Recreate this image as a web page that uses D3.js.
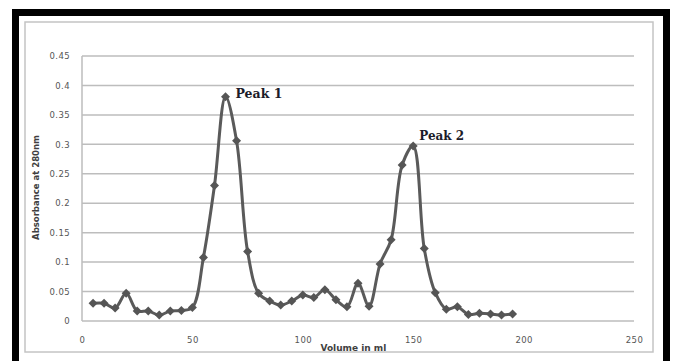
<!DOCTYPE html>
<html>
<head>
<meta charset="utf-8">
<script src="https://cdn.jsdelivr.net/npm/d3@7"></script>
<style>
  body { margin: 0; background: #fff; }
  svg { display: block; }
</style>
</head>
<body>
<div id="chart-area"></div>
<script>
// elution volumes (ml) and absorbance readings at 280nm
const volumes = [5, 10, 15, 20, 25, 30, 35, 40, 45, 50,
                 55, 60, 65, 70, 75, 80, 85, 90, 95, 100,
                 105, 110, 115, 120, 125, 130, 135, 140, 145, 150,
                 155, 160, 165, 170, 175, 180, 185, 190, 195]
const absorbance = [0.030, 0.030, 0.022, 0.047, 0.017, 0.017, 0.010, 0.017, 0.018, 0.023,
                    0.108, 0.230, 0.381, 0.306, 0.118, 0.047, 0.034, 0.027, 0.034, 0.044,
                    0.040, 0.053, 0.036, 0.024, 0.064, 0.025, 0.097, 0.138, 0.265, 0.297,
                    0.123, 0.048, 0.020, 0.024, 0.011, 0.013, 0.012, 0.010, 0.012]
const xTicks = [0, 50, 100, 150, 200, 250]
const yTicks = [0, 0.05, 0.1, 0.15, 0.2, 0.25, 0.3, 0.35, 0.4, 0.45]
const peaks = [{ label: 'Peak 1', vol: 65 }, { label: 'Peak 2', vol: 150 }]

const W = 673, H = 361
const margin = { left: 82, right: 39, top: 56, bottom: 40 }
const width = W - margin.left - margin.right
const height = H - margin.top - margin.bottom

const data = volumes.map((v, i) => ({ vol: v, abs: absorbance[i] }))

const svg = d3.select('#chart-area')
              .append('svg')
              .attr('width', W)
              .attr('height', H)

svg.append('rect').attr('width', W).attr('height', H).attr('fill', '#fff')

// outer black frame
svg.append('rect')
   .attr('x', 15.5).attr('y', 12.5)
   .attr('width', 651).attr('height', 370)
   .attr('fill', 'none').attr('stroke', '#000').attr('stroke-width', 7)

// chart area border
svg.append('rect')
   .attr('x', 25).attr('y', 22)
   .attr('width', 628).attr('height', 330)
   .attr('fill', 'none').attr('stroke', '#c4c4c4').attr('stroke-width', 1.5)

const g = svg.append('g')
             .attr('transform', 'translate(' + margin.left + ', ' + margin.top + ')')

// X Scale
const x = d3.scaleLinear()
            .domain([0, 250])
            .range([0, width])

// Y Scale
const y = d3.scaleLinear()
            .domain([0, 0.45])
            .range([height, 0])

// gridlines
g.append('g')
 .selectAll('line')
 .data(yTicks)
 .enter().append('line')
 .attr('x1', 0).attr('x2', width)
 .attr('y1', d => y(d)).attr('y2', d => y(d))
 .attr('stroke', '#bdbdbd').attr('stroke-width', 1.5)

g.append('line')
 .attr('x1', 0).attr('x2', 0)
 .attr('y1', 0).attr('y2', height)
 .attr('stroke', '#bdbdbd').attr('stroke-width', 1.5)

// Y Axis labels
const yAxisCall = d3.axisLeft(y)
                    .tickValues(yTicks)
                    .tickSize(0)
                    .tickPadding(12)
                    .tickFormat(d => d3.format('')(+d.toFixed(2)))
const yAxisGroup = g.append('g').attr('class', 'y-axis').call(yAxisCall)

// X Axis labels
const xAxisCall = d3.axisBottom(x)
                    .tickValues(xTicks)
                    .tickSize(0)
                    .tickPadding(16)
const xAxisGroup = g.append('g')
                    .attr('class', 'x-axis')
                    .attr('transform', 'translate(0,' + height + ')')
                    .call(xAxisCall)

svg.selectAll('.domain').remove()
svg.selectAll('.tick text')
   .attr('font-family', 'DejaVu Sans')
   .attr('font-size', '8.5px')
   .attr('letter-spacing', '0.4px')
   .attr('fill', '#555')

// X Label
g.append('text')
 .attr('x', x(108))
 .attr('y', height + 30)
 .attr('font-family', 'DejaVu Sans')
 .attr('font-weight', 'bold')
 .attr('font-size', '9px')
 .attr('fill', '#404040')
 .text('Volume in ml')

// Y Label
g.append('text')
 .attr('transform', 'translate(-43,' + (y(0.225) - 1) + ') rotate(-90)')
 .attr('text-anchor', 'middle')
 .attr('font-family', 'DejaVu Sans')
 .attr('font-weight', 'bold')
 .attr('font-size', '8.5px')
 .attr('fill', '#404040')
 .text('Absorbance at 280nm')

// line
const line = d3.line()
               .x(d => x(d.vol))
               .y(d => y(d.abs))
               .curve(d3.curveCatmullRom.alpha(0.5))

g.append('path')
 .datum(data)
 .attr('d', line)
 .attr('fill', 'none')
 .attr('stroke', '#5a5a5a')
 .attr('stroke-width', 3)

// diamond markers
g.selectAll('.marker')
 .data(data)
 .enter().append('path')
 .attr('class', 'marker')
 .attr('transform', d => 'translate(' + x(d.vol) + ',' + y(d.abs) + ')')
 .attr('d', 'M0,-4.5L4.5,0L0,4.5L-4.5,0Z')
 .attr('fill', '#555')

// peak labels
g.selectAll('.peak')
 .data(peaks)
 .enter().append('text')
 .attr('class', 'peak')
 .attr('x', d => x(d.vol) + (d.vol === 65 ? 10 : 6))
 .attr('y', d => y(absorbance[volumes.indexOf(d.vol)]) + (d.vol === 65 ? 1 : -6))
 .attr('font-family', 'DejaVu Serif')
 .attr('font-weight', 'bold')
 .attr('font-size', d => d.vol === 65 ? '12.5px' : '12px')
 .attr('fill', '#1c1c2a')
 .text(d => d.label)
</script>
</body>
</html>
